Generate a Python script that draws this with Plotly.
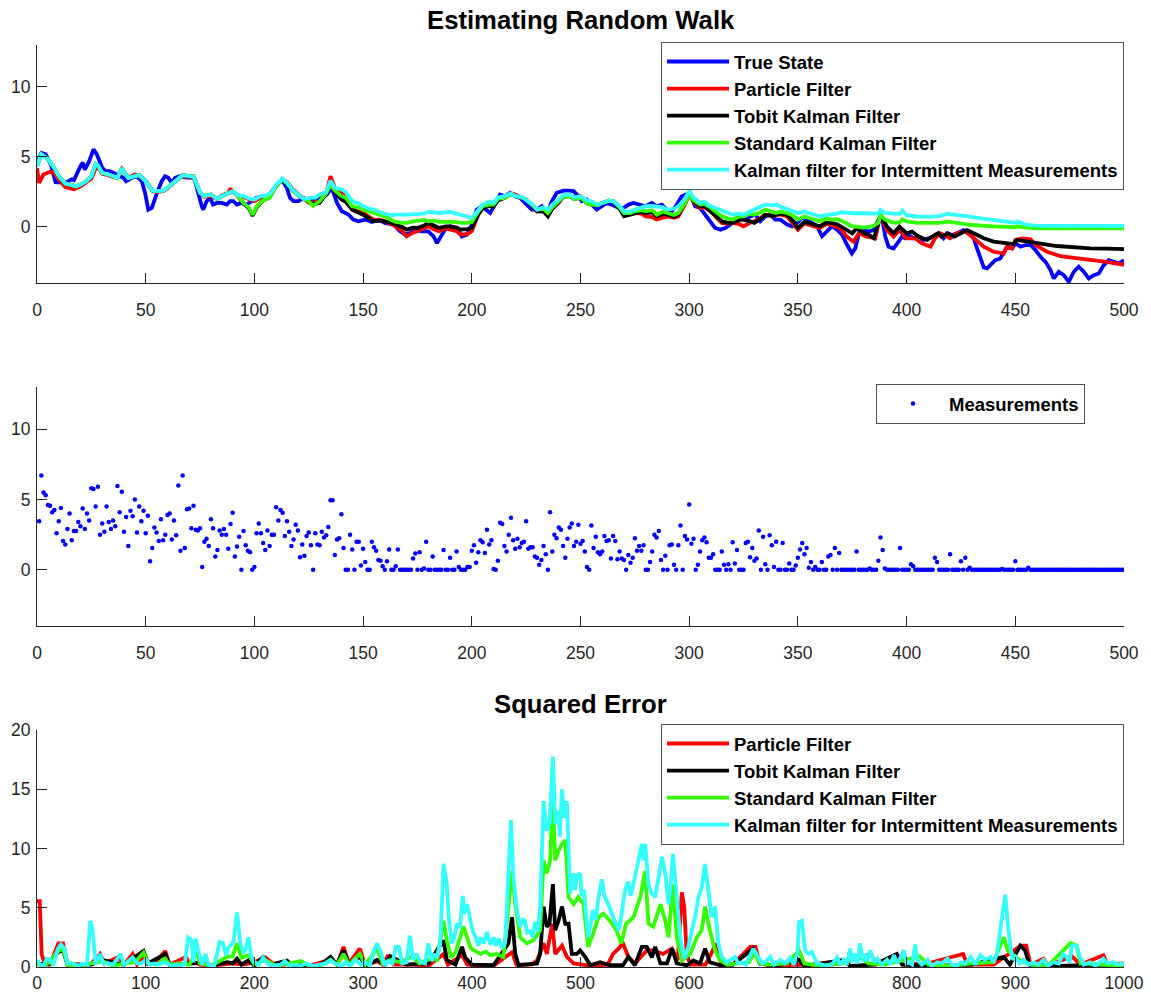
import plotly.graph_objects as go

# ---------------- Top panel: Estimating Random Walk (time, value) ----------------
true_state = [(0,4.5),(2,5.3),(4,5.2),(5,4.85),(6.5,4.4),(8.5,3.2),(13,3.15),(16,3.4),(17,3.35),(20,4.35),(21,4.6),(22,4.1),(24,4.7),(26,5.54),(27.5,5.2),(30,4.23),(31.5,3.99),(33.6,3.99),(36.6,3.75),(39.7,3.51),(41,3.27),(43.5,3.51),(45.8,3.63),(48.2,3.27),(49.7,2.44),(51.2,1.24),(52.8,1.36),(54.3,2.08),(55.8,2.68),(57.4,3.27),(58.9,3.63),(60.4,3.51),(62,3.15),(63.5,3.51),(65.8,3.63),(68,3.55),(70,3.5),(72,3.5),(72.7,3.27),(74.2,2.32),(75.8,1.48),(76.5,1.24),(78,1.84),(79.6,2.08),(81,1.6),(82.7,1.72),(85,1.72),(87.3,1.6),(88.8,1.84),(90.3,1.84),(91.9,1.6),(94.2,1.72),(96.5,1.6),(98.7,1.84),(101,2.08),(104,2.2),(106.4,2.2),(108.7,2.68),(111,3.15),(112.6,3.39),(114.9,2.8),(116.4,2.08),(118,1.84),(120.2,1.84),(122.5,2.08),(124,1.96),(126.4,2.0),(128.7,1.9),(131,2.1),(133.3,2.32),(135.6,2.8),(138,1.72),(140.2,1.12),(143.3,0.88),(145.5,0.53),(147.9,0.41),(150.9,0.53),(154,0.36),(157,0.53),(160,0.29),(164,0.17),(167,-0.31),(169.3,-0.55),(171.6,-0.43),(173.9,-0.19),(177,-0.31),(180,-0.31),(182.4,-0.67),(184,-1.15),(185.4,-0.79),(187.7,-0.19),(190,0.05),(193,-0.07),(195.4,-0.67),(197.7,-0.55),(200,0.17),(202.3,1.24),(204.6,1.48),(207,1.12),(208.4,1.0),(210.7,1.6),(213,2.32),(215.3,2.2),(217.6,2.44),(219.9,2.2),(222.2,2.08),(225.3,1.6),(227.6,1.24),(229.9,1.24),(232.2,1.48),(234.5,0.88),(236.8,1.84),(239.1,2.44),(242.2,2.6),(244.5,2.6),(246.8,2.56),(249.1,2.2),(250.6,1.84),(252.9,1.96),(255.2,1.6),(257.5,1.24),(259.8,1.48),(262.1,1.72),(264.4,1.6),(267.5,1.36),(269.8,1.36),(272.1,1.6),(274.4,1.72),(276.7,1.6),(279.8,1.48),(282.8,1.72),(285.1,1.48),(287.4,1.6),(289.7,1.24),(292,1.12),(294.3,1.6),(296.6,2.2),(298.9,2.32),(300.4,2.44),(302.7,1.48),(305,1.36),(307.3,0.88),(309.6,0.41),(311.9,-0.07),(314.3,-0.19),(316.6,-0.07),(318.9,0.17),(321.2,0.53),(323.5,0.88),(325.8,0.53),(328.1,0.76),(330.4,0.88),(332.7,0.41),(335,0.76),(337.3,0.88),(339.6,0.53),(341.9,0.53),(345,0.17),(347.3,0.05),(349.6,0.29),(351.9,0.65),(354.2,0.53),(356.5,0.29),(358.8,0.05),(361.1,-0.67),(363.4,-0.31),(365.7,0.05),(368,-0.19),(370.3,-0.55),(372.6,-1.27),(374.8,-1.89),(376.4,-1.53),(377.9,-0.57),(380.2,-0.22),(382.5,-0.33),(384.8,-0.22),(387.1,0.5),(388.6,0.74),(390.2,-0.69),(391.7,-1.41),(394,-1.53),(396.3,-1.05),(397.8,-0.69),(399.4,-0.81),(400.9,-0.57),(403.2,-0.81),(405.5,-0.69),(407.8,-0.93),(410.1,-0.81),(412.4,-0.69),(414.7,-0.45),(417,-0.81),(418.6,-0.45),(420.9,-0.57),(423.2,-0.45),(426.2,-0.22),(428.6,-0.45),(430.9,-0.81),(432.4,-1.53),(434,-2.25),(435.5,-2.89),(437,-2.96),(438.6,-2.72),(440.8,-2.37),(443.1,-2.25),(444.7,-1.77),(446.2,-1.41),(448.5,-1.53),(450,-1.17),(452.4,-1.41),(454.7,-1.29),(457,-1.29),(459.3,-1.65),(461.6,-2.13),(463.9,-2.49),(466.2,-3.08),(467.7,-3.68),(470,-3.2),(472.3,-3.44),(474.6,-3.92),(476.9,-3.2),(479.2,-2.84),(481.5,-3.2),(483.8,-3.68),(486.1,-3.44),(488.4,-3.32),(490.7,-2.72),(493,-2.37),(495.3,-2.49),(497.6,-2.6),(500,-2.37)]

particle_filter = [(0,4.2),(1,3.15),(3,3.75),(6,3.95),(8,3.85),(10,3.4),(13,2.85),(17,2.7),(20,2.9),(23,3.2),(25,3.45),(27,4.2),(28,4.3),(30,3.8),(33,3.7),(35,3.55),(37,3.5),(39,4.15),(40,3.95),(42,3.5),(45,3.75),(47,3.7),(50,3.3),(53,2.6),(55,2.5),(58,2.55),(60,2.75),(63,3.15),(65,3.45),(67,3.6),(70,3.6),(72,3.6),(75,2.4),(77,2.15),(80,2.2),(83,2.0),(85,2.25),(88,2.45),(89,2.75),(90,2.5),(92,2.3),(95,2.15),(98,2.0),(100,1.85),(103,2.1),(105,2.15),(108,2.45),(110,2.95),(113,3.4),(115,3.2),(118,2.65),(120,2.35),(123,2.0),(125,1.72),(128,1.75),(130,1.84),(133,2.4),(135,3.63),(137,2.8),(140,2.44),(142,2.2),(145,1.24),(148,1.1),(150,1.0),(153,0.7),(155,0.53),(158,0.5),(160,0.41),(163,0.2),(165,0.05),(168,-0.3),(170,-0.67),(173,-0.4),(175,-0.31),(178,-0.1),(180,0.05),(183,-0.2),(185,-0.31),(188,-0.1),(190,-0.19),(193,-0.3),(195,-0.55),(198,-0.5),(200,-0.31),(203,0.9),(205,1.36),(208,1.6),(210,1.6),(212,1.9),(215,2.08),(218,2.4),(220,2.32),(223,2.1),(225,1.96),(228,1.5),(230,1.12),(233,1.15),(235,0.88),(237,1.3),(240,1.72),(242,2.2),(245,2.32),(247,2.1),(250,2.2),(253,1.8),(255,1.72),(258,1.6),(260,1.72),(263,1.9),(265,1.84),(268,1.35),(270,0.88),(273,0.9),(275,1.0),(278,0.95),(280,0.76),(283,0.7),(285,0.53),(288,0.7),(290,0.76),(293,0.65),(295,0.76),(298,1.6),(300,2.32),(302,1.8),(305,1.36),(307,1.4),(310,1.12),(313,0.6),(315,0.29),(318,0.25),(320,0.29),(323,0.2),(325,0.05),(328,0.3),(330,0.41),(333,0.65),(335,0.88),(338,0.8),(340,0.88),(342,0.9),(345,0.76),(348,0.2),(350,-0.19),(353,0.25),(355,0.17),(358,0.0),(360,-0.07),(363,0.2),(365,0.17),(368,0.0),(369.5,-0.1),(372.5,-0.69),(375.6,-1.05),(378,-0.45),(381.8,-0.69),(385.6,-0.81),(388,0.86),(391,-0.22),(394,-0.69),(396.7,-0.22),(400,-0.81),(403.9,-0.81),(407,-1.17),(411,-1.41),(413,-0.81),(415.5,-0.45),(420,-0.81),(423,-0.45),(427,-0.33),(431,-0.81),(435.5,-1.41),(440,-1.77),(444.7,-1.89),(446.2,-1.41),(448.5,-1.53),(450,-0.93),(453,-0.81),(457,-0.88),(459.3,-1.29),(464.6,-1.77),(470.7,-2.08),(476.9,-2.2),(484.5,-2.32),(492,-2.49),(500,-2.7)]

# the three Kalman-type filters coincide until the first zero (censored) measurement
kalman_common = [(0,4.35),(2,5.19),(5,4.85),(8,4.2),(10,3.63),(13,3.1),(15,3.03),(18,2.9),(20,3.03),(23,3.3),(25,3.63),(27,4.5),(28,4.4),(30,3.87),(33,3.75),(35,3.63),(37,3.5),(39,4.2),(40,3.99),(42,3.5),(45,3.63),(47,3.7),(50,3.27),(53,2.6),(55,2.56),(58,2.6),(60,2.8),(63,3.2),(65,3.51),(67,3.7),(70,3.63),(72,3.6),(75,2.44),(77,2.2),(80,2.32),(83,2.0),(85,2.2),(88,2.4),(90,2.56),(92,2.3)]

tobit_kf_rest = [(93,2.1),(95,1.65),(97.4,1.35),(99.2,0.8),(101,1.4),(104,1.9),(107,2.1),(110,2.95),(113,3.4),(115,3.1),(118,2.55),(120,2.3),(123,1.95),(125,1.84),(127,1.6),(130,1.72),(133,2.35),(135,3.03),(137,2.5),(140,1.96),(142,1.8),(145,1.24),(148,1.05),(150,0.88),(153,0.6),(155,0.41),(158,0.45),(160,0.41),(163,0.3),(165,0.17),(168,0.0),(170,-0.19),(173,-0.05),(175,-0.07),(178,0.1),(180,0.29),(183,0.05),(185,-0.07),(188,0.05),(190,0.05),(193,-0.05),(195,-0.19),(198,-0.15),(200,-0.07),(203,0.9),(205,1.36),(208,1.5),(210,1.48),(212,1.9),(215,2.08),(218,2.35),(220,2.2),(223,2.1),(225,1.96),(228,1.5),(230,1.12),(233,1.1),(235,0.76),(237,1.3),(240,1.84),(242,2.15),(245,2.2),(247,2.0),(250,2.08),(253,1.7),(255,1.6),(258,1.55),(260,1.72),(263,1.85),(265,1.84),(268,1.3),(270,0.76),(273,0.9),(275,1.0),(278,1.1),(280,1.0),(283,1.05),(285,0.76),(288,0.95),(290,0.88),(293,0.75),(295,0.88),(298,1.7),(300,2.32),(302,1.85),(305,1.48),(307,1.5),(310,1.12),(313,0.7),(315,0.41),(318,0.3),(320,0.29),(323,0.5),(325,0.53),(328,0.4),(330,0.29),(333,0.6),(335,0.88),(338,0.8),(340,0.88),(342,0.95),(345,0.88),(348,0.4),(350,-0.07),(353,0.35),(355,0.29),(358,0.15),(360,0.05),(363,0.3),(365,0.29),(368,0.2),(370,0.0),(372,-0.22),(375,-0.45),(377,-0.1),(380,-0.4),(383,-0.6),(385,-0.81),(388,0.86),(391,0.02),(394,-0.45),(396.7,0.02),(400,-0.45),(402.5,-0.33),(405.5,-0.69),(409.4,-0.93),(413,-0.57),(414.5,-0.45),(416,-0.69),(419,-0.45),(422,-0.69),(426,-0.33),(427.8,-0.22),(430.9,-0.45),(435.5,-0.81),(440,-1.05),(446,-1.17),(449.2,-1.22),(450.7,-0.93),(455,-1.05),(461,-1.17),(469,-1.36),(477,-1.46),(484.5,-1.53),(492,-1.55),(500,-1.58)]

standard_kf_rest = [(93,2.1),(95,1.7),(97.4,1.4),(99.2,0.88),(101,1.45),(104,1.9),(107,2.1),(110,2.95),(113,3.4),(115,3.1),(118,2.55),(120,2.3),(123,1.95),(125,1.84),(127,1.5),(130,1.84),(133,2.4),(135,3.03),(137,2.6),(140,2.2),(142,2.1),(145,1.48),(148,1.4),(150,1.24),(153,1.1),(155,1.0),(158,0.85),(160,0.76),(163,0.5),(165,0.36),(168,0.3),(170,0.29),(173,0.4),(175,0.45),(178,0.5),(180,0.41),(183,0.45),(185,0.36),(188,0.4),(190,0.36),(193,0.35),(195,0.29),(198,0.3),(200,0.36),(203,1.1),(205,1.48),(208,1.6),(210,1.6),(212,2.0),(215,2.08),(218,2.35),(220,2.2),(223,2.1),(225,1.96),(228,1.55),(230,1.24),(233,1.3),(235,1.0),(237,1.4),(240,1.84),(242,2.15),(245,2.2),(247,2.0),(250,2.08),(253,1.7),(255,1.6),(258,1.55),(260,1.72),(263,1.85),(265,1.84),(268,1.4),(270,1.0),(273,1.0),(275,1.12),(278,1.2),(280,1.12),(283,1.2),(285,0.88),(288,1.1),(290,1.0),(293,0.85),(295,1.0),(298,1.7),(300,2.32),(302,1.9),(305,1.6),(307,1.65),(310,1.36),(313,1.0),(315,0.76),(318,0.6),(320,0.53),(323,0.75),(325,0.76),(328,0.95),(330,0.88),(333,1.05),(335,1.24),(338,1.1),(340,1.0),(342,1.1),(345,1.0),(348,0.8),(350,0.53),(353,0.75),(355,0.65),(358,0.5),(360,0.41),(363,0.6),(365,0.53),(368,0.55),(370,0.45),(373,0.2),(375,0.05),(378,0.0),(380,-0.05),(383,0.0),(385,0.1),(387,0.3),(388,0.86),(390,0.55),(393,0.35),(395,0.3),(397,0.35),(398,0.55),(400,0.4),(405,0.3),(410,0.28),(415,0.3),(419,0.38),(420,0.36),(425,0.3),(430,0.14),(440,0.04),(450,-0.02),(451,0.05),(455,-0.05),(460,-0.1),(480,-0.1),(500,-0.1)]

intermittent_kf_rest = [(95,2.2),(98,2.0),(100,1.96),(103,2.2),(105,2.2),(108,2.5),(110,3.03),(113,3.45),(115,3.15),(118,2.6),(120,2.32),(123,2.0),(125,2.08),(128,2.1),(130,2.32),(133,2.5),(135,3.3),(137,2.8),(140,2.68),(142,2.5),(145,1.84),(148,1.7),(150,1.48),(153,1.3),(155,1.24),(158,1.05),(160,0.93),(163,0.85),(165,0.88),(170,0.88),(175,0.96),(178,0.95),(180,1.08),(185,1.0),(188,1.05),(190,1.08),(193,0.95),(195,0.88),(198,0.75),(200,0.65),(203,1.2),(205,1.6),(208,1.8),(210,1.72),(212,2.1),(215,2.2),(218,2.4),(220,2.2),(223,2.15),(225,1.96),(228,1.6),(230,1.24),(233,1.4),(235,1.24),(237,1.6),(240,1.96),(242,2.3),(245,2.32),(247,2.1),(250,2.2),(253,1.9),(255,1.84),(258,1.6),(260,1.72),(263,1.9),(265,1.84),(268,1.5),(270,1.12),(273,1.1),(275,1.24),(278,1.35),(280,1.48),(283,1.5),(285,1.48),(288,1.4),(290,1.24),(293,1.3),(295,1.48),(298,2.0),(300,2.56),(302,2.1),(305,1.72),(307,1.8),(310,1.48),(313,1.3),(315,1.12),(318,0.95),(320,0.88),(323,0.95),(325,0.88),(328,1.1),(330,1.24),(333,1.45),(335,1.6),(338,1.55),(340,1.6),(342,1.45),(345,1.24),(348,1.1),(350,1.0),(353,1.1),(355,1.0),(358,0.85),(360,0.76),(363,0.85),(365,0.88),(368,0.95),(370,1.05),(375,0.98),(380,0.98),(385,0.93),(387,0.95),(388,1.22),(390,1.0),(395,0.93),(397,0.95),(398,1.17),(400,0.85),(405,0.75),(410,0.72),(415,0.78),(419,0.95),(420,0.92),(425,0.85),(430,0.72),(435,0.6),(440,0.5),(445,0.35),(450,0.3),(451,0.4),(453,0.28),(455,0.16),(460,0.08),(470,0.07),(480,0.07),(490,0.07),(500,0.07)]

# ---------------- Middle panel: measurements, t = 1..500 ----------------
measurements = [
    3.45, 6.7, 5.5, 5.3, 4.6, 4.55, 4.1, 4.25, 2.6, 3.45,
    4.4, 2.05, 1.8, 2.9, 4.0, 2.1, 2.75, 2.75, 3.4, 3.1,
    4.35, 2.9, 4.0, 3.5, 5.8, 5.75, 4.5, 5.9, 2.5, 3.3,
    2.7, 4.5, 3.4, 2.9, 3.5, 3.1, 5.95, 4.1, 5.55, 2.7,
    3.75, 1.7, 4.2, 3.8, 5.0, 2.65, 4.5, 3.45, 4.2, 2.6,
    3.85, 0.6, 1.55, 3.0, 2.65, 2.05, 3.6, 2.1, 2.5, 3.9,
    4.0, 2.15, 3.5, 2.45, 6.0, 1.35, 6.7, 1.55, 4.3, 4.35,
    2.95, 4.55, 2.85, 2.8, 2.95, 0.2, 2.0, 2.2, 1.7, 3.6,
    2.95, 0.95, 1.4, 2.8, 2.5, 2.9, 2.5, 1.5, 3.25, 4.05,
    0.95, 1.65, 2.35, 0.0, 2.75, 1.75, 1.35, 1.25, 0.0, 0.2,
    2.6, 3.3, 2.6, 1.9, 1.4, 2.8, 1.7, 2.5, 2.5, 4.45,
    3.5, 4.25, 4.05, 2.4, 3.45, 2.7, 1.7, 2.15, 3.2, 2.8,
    0.9, 1.8, 1.0, 2.4, 2.65, 1.75, 0.0, 2.6, 1.8, 1.75,
    2.7, 2.3, 2.45, 3.05, 4.95, 4.95, 1.05, 2.15, 2.25, 3.95,
    1.55, 0.0, 0.0, 2.5, 1.45, 0.0, 2.0, 2.0, 0.3, 1.5,
    0.55, 0.0, 0.0, 2.0, 1.6, 1.35, 0.7, 0.65, 0.25, 0.0,
    0.6, 1.45, 0.0, 0.0, 0.25, 1.45, 0.0, 0.0, 0.0, 0.0,
    0.0, 0.0, 0.8, 1.15, 0.0, 1.25, 0.0, 0.1, 2.0, 0.0,
    0.0, 0.95, 0.0, 0.0, 0.0, 0.0, 1.4, 0.0, 0.0, 0.85,
    0.0, 0.0, 1.3, 0.2, 0.0, 0.0, 0.0, 0.2, 0.2, 1.35,
    1.75, 0.5, 1.25, 2.1, 1.95, 1.2, 2.85, 1.8, 2.1, 0.05,
    0.0, 0.65, 3.35, 3.25, 1.7, 1.3, 2.5, 3.7, 2.1, 1.5,
    2.2, 1.6, 1.9, 2.0, 3.45, 1.5, 1.6, 1.6, 0.95, 0.85,
    0.35, 0.7, 1.7, 1.1, 0.0, 4.1, 1.3, 2.5, 2.25, 3.0,
    2.85, 1.7, 0.85, 2.2, 3.0, 3.3, 1.7, 2.0, 3.2, 1.85,
    2.05, 1.3, 0.2, 0.0, 3.15, 1.55, 2.35, 1.25, 1.1, 1.3,
    2.4, 2.05, 2.1, 0.8, 2.4, 2.05, 0.75, 1.3, 0.8, 0.7,
    0.0, 1.05, 0.5, 0.85, 2.25, 1.35, 1.7, 1.35, 1.75, 0.0,
    0.0, 0.55, 1.3, 2.5, 2.3, 2.75, 0.7, 0.0, 1.0, 0.0,
    1.75, 1.8, 0.35, 0.0, 1.75, 3.15, 0.0, 2.4, 2.15, 4.65,
    1.85, 2.2, 0.0, 0.35, 1.3, 2.1, 2.3, 1.95, 0.85, 0.85,
    1.1, 0.0, 0.0, 0.0, 1.3, 0.35, 0.0, 0.4, 0.0, 1.95,
    0.45, 1.4, 0.0, 0.0, 0.0, 1.9, 2.0, 0.9, 1.55, 0.65,
    0.8, 2.8, 0.0, 2.35, 0.4, 0.0, 2.45, 1.75, 0.2, 2.0,
    0.0, 0.0, 1.9, 0.0, 0.0, 0.45, 0.0, 0.0, 0.3, 0.85,
    1.45, 1.9, 1.1, 1.55, 0.15, 0.55, 0.0, 0.2, 0.0, 0.0,
    0.55, 0.0, 0.0, 0.95, 1.05, 0.0, 1.55, 0.0, 1.2, 0.0,
    0.0, 0.0, 0.0, 0.0, 0.0, 0.0, 1.3, 0.0, 0.0, 0.0,
    0.0, 0.0, 0.1, 0.0, 0.0, 0.0, 0.65, 2.3, 1.4, 0.1,
    0.0, 0.0, 0.0, 0.0, 0.0, 0.0, 1.55, 0.0, 0.0, 0.0,
    0.0, 0.4, 0.25, 0.0, 0.0, 0.0, 0.0, 0.0, 0.0, 0.0,
    0.0, 0.0, 0.85, 0.55, 0.0, 0.0, 0.0, 0.0, 0.0, 1.1,
    0.0, 0.0, 0.0, 0.0, 0.6, 0.0, 0.85, 0.0, 0.15, 0.0,
    0.0, 0.0, 0.0, 0.0, 0.0, 0.0, 0.0, 0.0, 0.0, 0.0,
    0.0, 0.0, 0.0, 0.05, 0.0, 0.0, 0.0, 0.0, 0.0, 0.6,
    0.0, 0.0, 0.0, 0.0, 0.0, 0.15, 0.0, 0.0, 0.0, 0.0,
    0.0, 0.0, 0.0, 0.0, 0.0, 0.0, 0.0, 0.0, 0.0, 0.0,
    0.0, 0.0, 0.0, 0.0, 0.0, 0.0, 0.0, 0.0, 0.0, 0.0,
    0.0, 0.0, 0.0, 0.0, 0.0, 0.0, 0.0, 0.0, 0.0, 0.0,
    0.0, 0.0, 0.0, 0.0, 0.0, 0.0, 0.0, 0.0, 0.0, 0.0,
]
measurement_steps = list(range(1, len(measurements) + 1))

# ---------------- Bottom panel: Squared Error (time, value) ----------------
se_particle = [(0,5.56),(2.5,5.56),(4.3,1.1),(7,0.3),(12,0.2),(19.6,2.0),(24,2.0),(28,0.3),(40,0.2),(50,0.3),(58,1.1),(62,0.3),(75,0.85),(80,0.2),(88,1.1),(92,0.2),(98,0.9),(102,0.3),(110,0.5),(118,1.35),(122,0.2),(137,0.85),(140,0.3),(145,0.4),(150,0.2),(160,0.1),(180,0.3),(190,0.2),(200,0.4),(210,0.8),(220,0.1),(235,0.3),(250,0.1),(270,0.6),(276,0.2),(282,1.7),(287,0.3),(297,1.55),(302,0.1),(313,0.5),(318,0.2),(323,1.0),(328,0.2),(345,0.2),(360,0.1),(374,1.1),(378,0.2),(391,1.0),(396,0.2),(420,0.1),(437,1.25),(441,0.2),(455,0.2),(460,0.55),(466,2.0),(469,1.1),(474,3.65),(476.7,1.1),(483,1.8),(487.5,0.85),(493.6,0.3),(510,0.1),(525,0.2),(530,1.1),(535,1.55),(539,2.0),(544,0.85),(550,0.3),(561,1.4),(567,1.4),(576,1.1),(584.2,1.55),(589.5,0.55),(593.2,6.3),(595.4,5.1),(597.8,0.85),(602,0.2),(615,0.2),(625,2.0),(629,0.4),(640,0.2),(656,1.7),(661,1.7),(665,0.3),(680,0.1),(700,0.2),(720,0.1),(740,0.3),(767,1.1),(772,0.2),(791,0.9),(796,0.2),(820,0.3),(852,1.1),(856,0.2),(880,0.2),(905,1.8),(910,1.8),(914,0.2),(926,0.7),(930,0.1),(952,0.9),(960,0.2),(981,1.0),(985,0.2),(1000,0.3)]

se_tobit = [(0,0.3),(10,0.2),(20,1.3),(24,1.4),(28,0.2),(50,0.2),(60,0.6),(80,0.2),(98,1.35),(102,0.3),(118,1.1),(122,0.2),(145,0.3),(150,0.4),(160,0.1),(175,0.4),(180,0.3),(184,0.7),(188,0.2),(195,0.6),(200,0.1),(208,0.85),(215,0.2),(230,0.55),(235,0.1),(260,0.1),(270,0.85),(276,0.2),(282,1.4),(287,0.3),(297,0.9),(302,0.1),(313,0.6),(320,0.2),(325,0.9),(340,0.2),(360,0.3),(374,2.25),(377,0.6),(385,0.2),(391,1.7),(394,0.8),(400,0.2),(420,0.15),(433.7,2.0),(437,4.2),(440,1.1),(443,0.15),(460,0.3),(462.9,1.1),(466,5.1),(469,3.4),(471.5,3.65),(474.6,7.0),(476.7,3.1),(479.8,3.9),(483,5.1),(486,3.65),(489,3.65),(492,1.1),(496.6,1.1),(499.7,1.4),(504.3,0.85),(509,0.15),(518,0.4),(527,0.15),(539,0.15),(544,0.85),(550,0.15),(556.5,1.7),(561,1.7),(565.6,0.8),(568.7,1.7),(573.5,0.3),(579.6,0.3),(584.2,1.55),(588.6,0.3),(597.8,0.15),(603.8,0.55),(610,0.3),(614.6,1.55),(619,0.4),(628.5,0.15),(640,0.2),(659,1.55),(665,0.3),(680,0.1),(701,0.6),(706,0.1),(742,0.6),(748,0.1),(770,0.2),(791,1.1),(796,0.2),(820,0.1),(860,0.2),(889.3,0.85),(895,0.2),(904.6,1.8),(909,1.4),(913,0.2),(940,0.1),(980,0.2),(1000,0.1)]

se_standard = [(0,0.3),(5,0.1),(10,0.3),(20,1.4),(24,1.5),(28,0.2),(40,0.1),(50,0.3),(60,0.5),(70,0.1),(80,0.3),(90,0.4),(98,1.2),(102,0.3),(110,0.2),(118,0.7),(122,0.2),(130,0.3),(140,0.2),(147,1.25),(150,0.3),(160,0.1),(170,0.6),(175,0.85),(180,0.9),(184,2.0),(188,0.8),(195,1.0),(200,0.2),(210,0.6),(220,0.1),(230,0.3),(243,0.5),(250,0.1),(260,0.1),(270,0.6),(276,0.2),(282,1.1),(287,0.2),(297,1.1),(302,0.2),(313,1.55),(318,0.3),(325,0.6),(335,0.4),(345,0.9),(352,0.3),(362,0.7),(368,0.6),(374,3.9),(377,2.25),(381,0.8),(385,1.2),(392.3,3.4),(395.5,2.5),(399,1.6),(402,1.4),(408,1.1),(413,1.3),(417,1.0),(423,1.1),(429,0.85),(433.7,5.1),(437,8.1),(440,5.3),(444.5,2.5),(450.6,2.0),(456.8,2.25),(462.9,3.1),(466,9.0),(469,7.9),(472,9.0),(474.6,14.0),(476.7,9.0),(479.8,9.8),(483,10.4),(486,10.7),(489,5.9),(493.6,5.3),(498,5.9),(502.7,5.3),(507,1.7),(511.5,2.8),(516.6,4.2),(521,4.5),(527,3.9),(533,3.1),(537.5,2.0),(542,3.65),(548.7,4.2),(555,5.9),(559.5,8.1),(562.6,3.65),(567,3.4),(573.5,5.3),(578,3.9),(581,2.5),(585,7.0),(588.6,2.5),(593.2,0.55),(601,1.1),(607,2.5),(611.5,3.1),(614.6,5.1),(619,3.1),(623.8,1.4),(628.5,0.55),(635,0.2),(645,0.3),(655,0.4),(660,1.2),(665,0.3),(675,0.2),(690,0.3),(701,1.4),(706,0.3),(720,0.1),(740,0.3),(757,0.85),(765,0.3),(780,0.2),(795,0.5),(812,0.9),(820,0.2),(840,0.1),(860,0.3),(880,0.4),(889.3,2.5),(893,1.4),(904.6,0.55),(915,0.2),(930,0.1),(950.6,2.0),(956.4,1.8),(960,0.3),(980,0.2),(1000,0.1)]

se_intermittent = [(0,0.6),(3,0.2),(6,0.1),(9,0.7),(12,0.6),(15,0.1),(19,1.5),(22,1.9),(25,1.6),(28,0.3),(33,0.3),(38,0.1),(42,0.3),(46,0.2),(49,3.9),(51,3.2),(54,0.2),(58,1.1),(61,0.3),(66,0.3),(70,0.2),(74,0.8),(77,1.1),(80,0.2),(85,0.6),(88,0.8),(92,0.3),(96,0.3),(100,0.6),(104,0.2),(108,0.3),(112,0.2),(116,0.4),(120,0.3),(124,0.1),(128,0.2),(132,0.1),(136,0.3),(139,2.5),(142,2.3),(144,0.4),(146,2.4),(149,1.1),(152,0.2),(155,1.1),(158,0.1),(163,0.1),(168,2.1),(171,2.0),(174,1.0),(176,1.6),(179,1.9),(181,2.25),(184,4.6),(187,2.0),(190,1.2),(192,1.5),(194.5,2.5),(197,0.9),(200,0.4),(204,0.2),(208,0.8),(212,0.3),(218,0.1),(224,0.2),(228,0.5),(232,0.1),(238,0.2),(242,0.1),(248,0.3),(254,0.1),(260,0.2),(266,0.3),(270,0.6),(274,0.3),(280,0.1),(284,0.4),(288,0.1),(293,0.6),(298,0.2),(302,0.4),(306,0.1),(310,1.4),(313,2.0),(316,1.3),(320,0.1),(323,0.5),(327,0.3),(330,1.7),(333,1.7),(336,0.3),(340,0.4),(343,2.65),(346,0.6),(349,1.1),(353,0.4),(357,0.3),(360,2.0),(363,0.5),(365,1.1),(368,0.8),(371,2.0),(374,8.7),(377,7.0),(379,4.0),(381.5,2.0),(384,2.5),(386,3.65),(389,3.3),(391.7,6.0),(393,4.5),(395.5,5.3),(398.6,3.9),(401,3.0),(403,2.65),(406,1.8),(408,2.5),(411,2.0),(414,2.95),(417,1.9),(420,2.5),(422,1.8),(424.6,2.4),(428,1.6),(430.7,2.1),(433.7,7.6),(436,12.4),(438.3,7.6),(441.4,4.8),(444.5,3.4),(447,4.0),(449,3.9),(451,2.8),(453.7,3.1),(456,2.5),(458,3.8),(461,3.0),(462.9,5.1),(466,14.0),(469,11.5),(471.5,12.1),(474.6,17.75),(476.7,12.1),(479.8,13.2),(481,11.0),(483,15.0),(485,12.6),(487.5,14.0),(490.5,6.2),(493.6,7.9),(495,6.5),(496.6,7.7),(499.7,7.9),(501,6.0),(503.4,6.5),(505,4.5),(507,2.5),(509,3.5),(511.5,4.8),(514,4.0),(516.6,5.9),(519.7,7.4),(522,6.0),(524,5.6),(527,5.0),(530,4.2),(532,3.8),(535,3.1),(537,4.0),(539,5.1),(541,6.5),(544,7.2),(546,6.0),(548.7,7.0),(551,8.0),(553.4,9.3),(556.5,10.4),(558,9.0),(559.5,10.4),(562.6,7.0),(565.6,6.2),(568.7,5.9),(572,7.6),(575,9.3),(578,7.9),(580.9,5.3),(583,7.0),(585,9.55),(588.6,5.9),(591.7,2.5),(595.4,0.7),(599.2,1.7),(601,2.5),(603.8,3.65),(606,4.5),(608.5,5.9),(611.5,6.7),(614.6,8.7),(617.6,6.7),(620.7,4.2),(623.8,5.1),(626.8,2.0),(630,0.85),(634.6,0.4),(638,0.6),(642.3,0.85),(645,0.3),(648.5,0.4),(652,0.2),(656,1.0),(659,1.55),(663.8,0.8),(667,0.3),(671,0.5),(674.5,0.85),(678,0.2),(684,0.6),(688,0.3),(693,0.8),(696,0.2),(699.6,1.1),(701,3.8),(703.7,3.9),(706.7,1.4),(709.8,1.1),(713,1.25),(717.5,0.3),(722,0.2),(727,0.1),(732,0.3),(736,0.8),(739,0.2),(742,0.6),(745,0.2),(748,1.55),(750,0.4),(752.5,1.1),(755,0.3),(757,2.0),(760,0.5),(762,1.1),(764,0.5),(766.7,1.4),(770,0.4),(773,0.7),(777,0.2),(782,0.6),(785,0.2),(788.4,1.0),(791,0.3),(794.5,0.8),(797.5,1.4),(800,0.3),(802,0.4),(805,0.2),(807.8,1.9),(810,0.6),(814,0.2),(819.5,0.6),(823,0.1),(828.5,0.4),(832,0.3),(837.7,0.7),(842,0.2),(846,0.1),(850,0.4),(854,0.3),(859,0.85),(863,0.2),(868,1.0),(872,0.6),(877,0.85),(880,0.4),(883,1.1),(886.8,3.65),(889.3,5.3),(890.8,6.1),(893,3.8),(895.9,1.4),(898,0.6),(900,0.85),(904,0.3),(907.6,0.6),(912,0.2),(916.9,0.4),(921,0.2),(926,0.6),(930,0.1),(935,0.4),(940,0.3),(944,1.1),(947,0.85),(950,0.4),(952,1.8),(956.4,1.8),(959.5,0.85),(963,0.2),(969,0.4),(974,0.1),(981,0.7),(985,0.3),(990,0.4),(994,0.2),(1000,0.3)]

top_ticks_x = [0, 50, 100, 150, 200, 250, 300, 350, 400, 450, 500]
top_ticks_y = [0, 5, 10]
bottom_ticks_x = [0, 100, 200, 300, 400, 500, 600, 700, 800, 900, 1000]
bottom_ticks_y = [0, 5, 10, 15, 20]

# ---------------- styling ----------------
FONT = "Liberation Sans, Arial, Helvetica, sans-serif"
AXC = "#262626"
BLUE, RED, BLACK, GREEN, CYAN = "#0000ff", "#ff0000", "#000000", "#33ff00", "#33ffff"
LW = 3.8


def xs(pts):
    return [p[0] for p in pts]


def ys(pts):
    return [p[1] for p in pts]


fig = go.Figure()

top_series = [
    ("True State", true_state, BLUE),
    ("Particle Filter", particle_filter, RED),
    ("Tobit Kalman Filter", kalman_common + tobit_kf_rest, BLACK),
    ("Standard Kalman Filter", kalman_common + standard_kf_rest, GREEN),
    ("Kalman filter for Intermittent Measurements", kalman_common + intermittent_kf_rest, CYAN),
]
for name, pts, col in top_series:
    fig.add_trace(go.Scatter(x=xs(pts), y=ys(pts), mode="lines", name=name,
                             line=dict(color=col, width=LW), xaxis="x", yaxis="y",
                             legend="legend"))

fig.add_trace(go.Scatter(x=measurement_steps, y=measurements, mode="markers", name="Measurements",
                         marker=dict(color=BLUE, size=4.5), xaxis="x2", yaxis="y2",
                         legend="legend2"))

bottom_series = [
    ("Particle Filter", se_particle, RED),
    ("Tobit Kalman Filter", se_tobit, BLACK),
    ("Standard Kalman Filter", se_standard, GREEN),
    ("Kalman filter for Intermittent Measurements", se_intermittent, CYAN),
]
for name, pts, col in bottom_series:
    fig.add_trace(go.Scatter(x=xs(pts), y=ys(pts), mode="lines", name=name,
                             line=dict(color=col, width=LW), xaxis="x3", yaxis="y3",
                             legend="legend3"))

axis_common = dict(showgrid=False, zeroline=False, showline=True, linecolor=AXC, linewidth=1,
                   ticks="inside", ticklen=10, tickcolor=AXC, tickwidth=1, mirror=False,
                   automargin=False,
                   tickfont=dict(family=FONT, size=17.5, color=AXC))

legend_font = dict(family=FONT, size=18.5, color="black", weight="bold")

fig.update_layout(
    width=1151, height=996,
    margin=dict(l=37, r=27, t=45, b=29, autoexpand=False),
    paper_bgcolor="white", plot_bgcolor="white",
    font=dict(family=FONT, color=AXC),
    xaxis=dict(domain=[0, 1], anchor="y", range=[0, 500], tickvals=top_ticks_x,
               ticklabelstandoff=11, **axis_common),
    yaxis=dict(domain=[0.7419, 1.0], anchor="x", range=[-4, 13], tickvals=top_ticks_y,
               ticklabelstandoff=2, **axis_common),
    xaxis2=dict(domain=[0, 1], anchor="y2", range=[0, 500], tickvals=top_ticks_x,
                ticklabelstandoff=11, **axis_common),
    yaxis2=dict(domain=[0.3698, 0.6291], anchor="x2", range=[-4, 13], tickvals=top_ticks_y,
                ticklabelstandoff=2, **axis_common),
    xaxis3=dict(domain=[0, 1], anchor="y3", range=[0, 1000], tickvals=bottom_ticks_x,
                ticklabelstandoff=0, **axis_common),
    yaxis3=dict(domain=[0, 0.2570], anchor="x3", range=[0, 20], tickvals=bottom_ticks_y,
                ticklabelstandoff=2, **axis_common),
    legend=dict(x=1.0, xanchor="right", y=1.0033, yanchor="top", bgcolor="white",
                bordercolor="#555555", borderwidth=1, itemwidth=62, font=legend_font),
    legend2=dict(x=0.9641, xanchor="right", y=0.6323, yanchor="top", bgcolor="white",
                 bordercolor="#555555", borderwidth=1, itemwidth=62, font=legend_font),
    legend3=dict(x=1.0, xanchor="right", y=0.2636, yanchor="top", bgcolor="white",
                 bordercolor="#555555", borderwidth=1, itemwidth=62, font=legend_font),
    annotations=[
        dict(text="Estimating Random Walk", xref="paper", yref="paper", x=0.5, y=1.0271,
             xanchor="center", yanchor="middle", showarrow=False,
             font=dict(family=FONT, size=25.7, color="black", weight="bold")),
        dict(text="Squared Error", xref="paper", yref="paper", x=0.5, y=0.2852,
             xanchor="center", yanchor="middle", showarrow=False,
             font=dict(family=FONT, size=25.7, color="black", weight="bold")),
    ],
)

fig.write_html("out.html")
